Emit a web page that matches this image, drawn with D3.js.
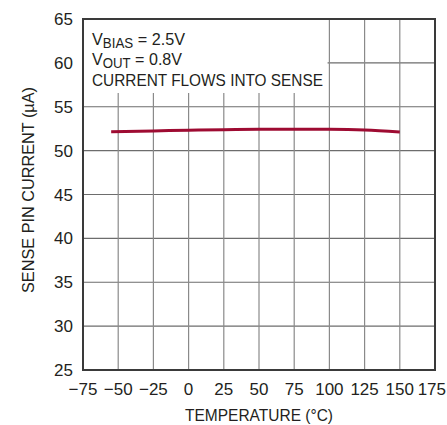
<!DOCTYPE html>
<html><head><meta charset="utf-8">
<script src="https://cdn.jsdelivr.net/npm/d3@7"></script>
<style>body{margin:0;background:#fff}text{font-family:"Liberation Sans Narrow","Arial Narrow","Liberation Sans",sans-serif;fill:#231f20}</style>
</head><body><svg id="c" width="447" height="425"></svg>
<script>
const temps = [-55, -25, 0, 25, 50, 75, 100, 125, 150];
const current = [52.16, 52.25, 52.33, 52.39, 52.43, 52.45, 52.44, 52.36, 52.13];
const xTicks = [-75, -50, -25, 0, 25, 50, 75, 100, 125, 150, 175];
const yTicks = [25, 30, 35, 40, 45, 50, 55, 60, 65];

const L = 83, R = 435, T = 19, B = 370;
const svg = d3.select("#c");
const x = d3.scaleLinear().domain([-75, 175]).range([L, R]);
const y = d3.scaleLinear().domain([25, 65]).range([B, T]);

// grid
svg.append("g").selectAll("line").data(yTicks.slice(1, -1)).join("line")
  .attr("x1", L).attr("x2", R).attr("y1", d => y(d)).attr("y2", d => y(d))
  .attr("stroke", "#6d6d6d").attr("stroke-width", 1.2);
svg.append("g").selectAll("line").data(xTicks.slice(1, -1)).join("line")
  .attr("y1", T).attr("y2", B).attr("x1", d => x(d)).attr("x2", d => x(d))
  .attr("stroke", "#8a8a8a").attr("stroke-width", 1.2);

// annotation box
svg.append("rect").attr("x", L + 1).attr("y", T + 1).attr("width", x(98) - L).attr("height", 73).attr("fill", "#fff");

// curve
const line = d3.line().x((d, i) => x(temps[i])).y(d => y(d)).curve(d3.curveMonotoneX);
svg.append("path").datum(current).attr("d", line).attr("fill", "none")
  .attr("stroke", "#9e0b32").attr("stroke-width", 3);

// frame
svg.append("rect").attr("x", L).attr("y", T).attr("width", R - L).attr("height", B - T)
  .attr("fill", "none").attr("stroke", "#3a3a3a").attr("stroke-width", 2);

// axes labels
const fs = 17;
svg.append("g").selectAll("text").data(yTicks).join("text")
  .attr("x", 73).attr("y", d => y(d) + 6).attr("text-anchor", "end")
  .attr("font-size", fs).text(d => d);
const lastX = xTicks[xTicks.length - 1];
svg.append("g").selectAll("text").data(xTicks).join("text")
  .attr("x", d => d === lastX ? 446 : x(d)).attr("y", 395)
  .attr("text-anchor", d => d === lastX ? "end" : "middle")
  .attr("font-size", fs).text(d => d < 0 ? "\u2212" + Math.abs(d) : d);

svg.append("text").attr("x", 259).attr("y", 421).attr("text-anchor", "middle")
  .attr("font-size", fs).attr("textLength", 148).attr("lengthAdjust", "spacingAndGlyphs")
  .text("TEMPERATURE (°C)");
svg.append("text").attr("transform", "translate(34,190) rotate(-90)").attr("text-anchor", "middle")
  .attr("font-size", fs).attr("textLength", 206).attr("lengthAdjust", "spacingAndGlyphs")
  .text("SENSE PIN CURRENT (µA)");

// annotation
const a1 = svg.append("text").attr("x", 92).attr("y", 45).attr("font-size", fs)
  .attr("textLength", 93).attr("lengthAdjust", "spacingAndGlyphs");
a1.append("tspan").text("V");
a1.append("tspan").attr("font-size", 14).attr("dy", 3).text("BIAS");
a1.append("tspan").attr("dy", -3).text(" = 2.5V");
const a2 = svg.append("text").attr("x", 92).attr("y", 65).attr("font-size", fs)
  .attr("textLength", 90).attr("lengthAdjust", "spacingAndGlyphs");
a2.append("tspan").text("V");
a2.append("tspan").attr("font-size", 14).attr("dy", 3).text("OUT");
a2.append("tspan").attr("dy", -3).text(" = 0.8V");
svg.append("text").attr("x", 92).attr("y", 86).attr("font-size", fs)
  .attr("textLength", 231).attr("lengthAdjust", "spacingAndGlyphs").text("CURRENT FLOWS INTO SENSE");
</script></body></html>
